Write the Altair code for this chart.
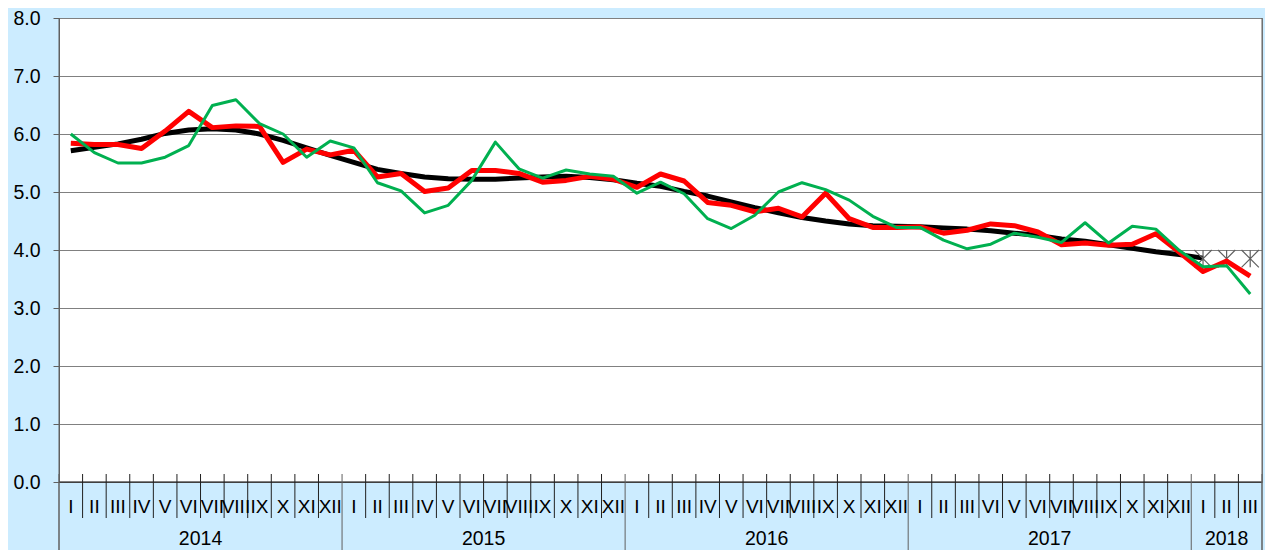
import altair as alt
import pandas as pd

years = ["2014", "2015", "2016", "2017", "2018"]
months_per_year = [12, 12, 12, 12, 3]
month_labels = (
    ["I", "II", "III", "IV", "V", "VI", "VII", "VIII", "IX", "X", "XI", "XII"]
    + ["I", "II", "III", "IV", "V", "VI", "VII", "VIII", "IX", "X", "XI", "XII"]
    + ["I", "II", "III", "IV", "V", "VI", "VII", "VIII", "IX", "X", "XI", "XII"]
    + ["I", "II", "III", "VI", "V", "VI", "VII", "VIII", "IX", "X", "XI", "XII"]
    + ["I", "II", "III"]
)

green = [
    6.00, 5.68, 5.50, 5.50, 5.60, 5.80, 6.49, 6.59, 6.18, 6.00, 5.60, 5.88,
    5.76, 5.16, 5.02, 4.64, 4.77, 5.20, 5.86, 5.40, 5.24, 5.38, 5.31, 5.27,
    4.98, 5.17, 4.97, 4.54, 4.37, 4.60, 5.00, 5.16, 5.04, 4.86, 4.58, 4.39,
    4.39, 4.17, 4.02, 4.10, 4.29, 4.22, 4.13, 4.47, 4.12, 4.41, 4.36, 3.99,
    3.71, 3.73, 3.24,
]
red = [
    5.84, 5.82, 5.82, 5.75, 6.05, 6.39, 6.11, 6.14, 6.13, 5.51, 5.74, 5.64,
    5.72, 5.26, 5.32, 5.01, 5.07, 5.37, 5.37, 5.32, 5.17, 5.20, 5.27, 5.22,
    5.08, 5.31, 5.19, 4.82, 4.77, 4.66, 4.72, 4.57, 4.98, 4.54, 4.39, 4.39,
    4.40, 4.29, 4.34, 4.45, 4.42, 4.31, 4.09, 4.12, 4.08, 4.10, 4.28, 3.96,
    3.63, 3.81, 3.55,
]
black = [
    5.71, 5.77, 5.83, 5.91, 6.01, 6.07, 6.09, 6.07, 6.00, 5.89, 5.76, 5.63,
    5.51, 5.39, 5.32, 5.26, 5.23, 5.22, 5.22, 5.24, 5.26, 5.27, 5.25, 5.21,
    5.15, 5.10, 5.01, 4.93, 4.83, 4.73, 4.64, 4.56, 4.50, 4.45, 4.42, 4.41,
    4.40, 4.38, 4.36, 4.33, 4.29, 4.25, 4.19, 4.15, 4.09, 4.03, 3.97, 3.92,
    3.86,
]
star_idx = [48, 49, 50]
star_val = [3.85, 3.85, 3.85]

n = len(month_labels)
FONT = "Liberation Sans"
BG = "#CCECFF"

xs = alt.Scale(domain=[-0.5, n - 0.5], nice=False, zero=False)
ys = alt.Scale(domain=[0, 8], nice=False)

def line_df(vals):
    return pd.DataFrame({"i": list(range(len(vals))), "v": vals})

yaxis = alt.Axis(
    values=[0, 1, 2, 3, 4, 5, 6, 7, 8], format=".1f", title=None,
    grid=True, gridColor="#808080", gridWidth=1,
    domainColor="#606060", tickColor="#606060", tickSize=6,
    labelPadding=13, labelFont=FONT, labelFontSize=19.5, labelColor="black",
)

base_black = alt.Chart(line_df(black)).mark_line(
    color="black", strokeWidth=5, strokeJoin="round"
).encode(
    x=alt.X("i:Q", scale=xs, axis=None),
    y=alt.Y("v:Q", scale=ys, axis=yaxis),
)
red_line = alt.Chart(line_df(red)).mark_line(
    color="#FF0000", strokeWidth=5, strokeJoin="round"
).encode(x=alt.X("i:Q", scale=xs, axis=None), y=alt.Y("v:Q", scale=ys))
green_line = alt.Chart(line_df(green)).mark_line(
    color="#00B050", strokeWidth=3, strokeJoin="round"
).encode(x=alt.X("i:Q", scale=xs, axis=None), y=alt.Y("v:Q", scale=ys))

stars = alt.Chart(pd.DataFrame({"i": star_idx, "v": star_val})).mark_point(
    shape="M-1,-1L1,1M-1,1L1,-1M0,-1L0,1", size=300, filled=False,
    stroke="#606060", strokeWidth=1.2, opacity=1,
).encode(x=alt.X("i:Q", scale=xs, axis=None), y=alt.Y("v:Q", scale=ys))

zero_rule = alt.Chart(pd.DataFrame({"v": [0]})).mark_rule(
    color="black", strokeWidth=1
).encode(y=alt.Y("v:Q", scale=ys))

# boundaries
year_bounds = [-0.5]
acc = 0
for m in months_per_year:
    acc += m
    year_bounds.append(acc - 0.5)
month_bounds = [i - 0.5 for i in range(1, n) if (i - 0.5) not in year_bounds]

month_sep = alt.Chart(pd.DataFrame({"b": month_bounds})).mark_rule(
    color="#202020", strokeWidth=1
).encode(
    x=alt.X("b:Q", scale=xs, axis=None), y=alt.value(456), y2=alt.value(500)
)
year_sep = alt.Chart(pd.DataFrame({"b": year_bounds})).mark_rule(
    color="#606060", strokeWidth=1
).encode(
    x=alt.X("b:Q", scale=xs, axis=None), y=alt.value(456), y2=alt.value(540)
)
side_lines = alt.Chart(pd.DataFrame({"b": [year_bounds[0], year_bounds[-1]]})).mark_rule(
    color="#606060", strokeWidth=1
).encode(
    x=alt.X("b:Q", scale=xs, axis=None), y=alt.value(0), y2=alt.value(540)
)

month_text = alt.Chart(
    pd.DataFrame({"i": list(range(n)), "t": month_labels})
).mark_text(
    font=FONT, fontSize=19, color="black", align="center", baseline="middle"
).encode(x=alt.X("i:Q", scale=xs, axis=None), y=alt.value(489), text="t:N")

year_centers = [
    (year_bounds[k] + year_bounds[k + 1]) / 2 for k in range(len(years))
]
year_text = alt.Chart(
    pd.DataFrame({"c": year_centers, "t": years})
).mark_text(
    font=FONT, fontSize=19.5, color="black", align="center", baseline="middle"
).encode(x=alt.X("c:Q", scale=xs, axis=None), y=alt.value(521), text="t:N")

chart = alt.layer(
    zero_rule, month_sep, year_sep, side_lines,
    base_black, stars, red_line, green_line,
    month_text, year_text,
).properties(
    width=1203, height=464,
    background=BG,
    padding={"left": 51, "top": 10, "right": 3, "bottom": 68},
    autosize=alt.AutoSizeParams(type="none"),
).configure_view(
    stroke="#808080", fill="white"
)

chart.save("out.html", embed_options={"renderer": "svg", "actions": False})
